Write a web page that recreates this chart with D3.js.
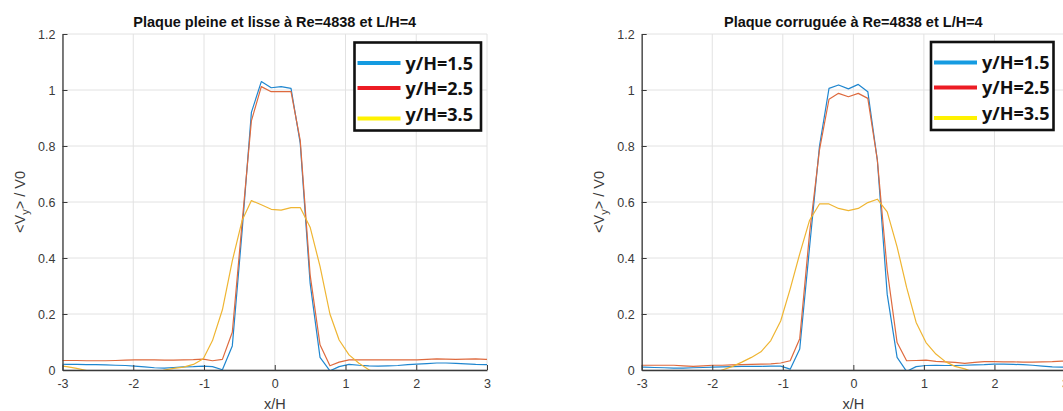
<!DOCTYPE html>
<html>
<head>
<meta charset="utf-8">
<script src="https://cdn.jsdelivr.net/npm/d3@7"></script>
<style>
  html, body { margin: 0; padding: 0; background: #fff; }
  svg { display: block; }
  .tick text { font-family: "Liberation Sans", Arial, sans-serif; font-size: 12.5px; fill: #3a3a3a; }
</style>
</head>
<body>
<svg id="chart" width="1063" height="411"></svg>
<script>
// Axis ticks shared by both panels
const xTicks = [-3, -2, -1, 0, 1, 2, 3];
const yTicks = [0, 0.2, 0.4, 0.6, 0.8, 1, 1.2];
const seriesNames = ["y/H=1.5", "y/H=2.5", "y/H=3.5"];

// Smooth plate (plaque pleine et lisse): x/H stations and <Vy>/V0 profiles
const xLisse = [-3.075, -2.94, -2.80, -2.66, -2.53, -2.39, -2.25, -2.11, -1.98, -1.84, -1.70, -1.56,
  -1.43, -1.29, -1.15, -1.01, -0.88, -0.74, -0.60, -0.46, -0.33, -0.19, -0.05, 0.09, 0.23, 0.36,
  0.50, 0.64, 0.78, 0.91, 1.05, 1.19, 1.33, 1.46, 1.60, 1.74, 1.88, 2.01, 2.15, 2.29, 2.42, 2.56,
  2.70, 2.84, 2.98, 3.11];
const lisse15 = [0.021, 0.020, 0.020, 0.019, 0.019, 0.018, 0.017, 0.016, 0.014, 0.011, 0.008, 0.007,
  0.009, 0.011, 0.012, 0.014, 0.012, 0.001, 0.086, 0.50, 0.92, 1.03, 1.008, 1.012, 1.006, 0.81,
  0.31, 0.045, -0.003, 0.012, 0.020, 0.017, 0.015, 0.014, 0.015, 0.016, 0.019, 0.021, 0.023, 0.025, 0.025, 0.024,
  0.022, 0.020, 0.019, 0.018];
const lisse25 = [0.034, 0.034, 0.034, 0.033, 0.033, 0.033, 0.034, 0.035, 0.036, 0.036, 0.036, 0.035,
  0.035, 0.036, 0.037, 0.039, 0.033, 0.038, 0.135, 0.53, 0.89, 1.012, 0.994, 0.994, 0.994, 0.82,
  0.34, 0.09, 0.015, 0.028, 0.036, 0.036, 0.036, 0.036, 0.036, 0.036, 0.036, 0.036, 0.038, 0.040, 0.039, 0.038,
  0.039, 0.040, 0.038, 0.037];
const lisse35 = [0.016, 0.012, 0.006, -0.002, -0.010, -0.015, -0.018, -0.020, -0.020, -0.018, -0.012, 0.0,
  0.006, 0.010, 0.020, 0.040, 0.105, 0.215, 0.39, 0.535, 0.605, 0.59, 0.574, 0.571, 0.58, 0.58,
  0.51, 0.37, 0.20, 0.107, 0.054, 0.024, 0.001, -0.015, -0.020, -0.025, -0.030, -0.030, -0.030, -0.030, -0.030, -0.030,
  -0.030, -0.030, -0.030, -0.030];

// Corrugated plate (plaque corruguée)
const xCorr = [-3.095, -2.96, -2.82, -2.68, -2.545, -2.41, -2.27, -2.13, -1.995, -1.86, -1.72, -1.58,
  -1.445, -1.31, -1.17, -1.03, -0.895, -0.76, -0.62, -0.48, -0.345, -0.21, -0.07, 0.07, 0.205, 0.34,
  0.48, 0.62, 0.755, 0.89, 1.03, 1.17, 1.305, 1.44, 1.58, 1.72, 1.855, 1.99, 2.13, 2.27, 2.405, 2.54,
  2.68, 2.82, 2.955, 3.09];
const corr15 = [0.010, 0.010, 0.009, 0.008, 0.007, 0.007, 0.008, 0.009, 0.010, 0.011, 0.012, 0.013,
  0.013, 0.013, 0.014, 0.014, 0.003, 0.075, 0.44, 0.80, 1.006, 1.018, 1.004, 1.02, 0.994, 0.75,
  0.27, 0.045, -0.005, 0.012, 0.016, 0.017, 0.016, 0.016, 0.017, 0.018, 0.019, 0.021, 0.021, 0.020, 0.019, 0.017,
  0.014, 0.011, 0.010, 0.010];
const corr25 = [0.017, 0.017, 0.017, 0.017, 0.017, 0.015, 0.013, 0.015, 0.017, 0.017, 0.018, 0.019,
  0.020, 0.021, 0.022, 0.025, 0.033, 0.112, 0.49, 0.786, 0.967, 0.988, 0.976, 0.988, 0.970, 0.75,
  0.357, 0.098, 0.033, 0.034, 0.035, 0.031, 0.029, 0.027, 0.024, 0.027, 0.030, 0.030, 0.029, 0.029, 0.028, 0.028,
  0.029, 0.030, 0.032, 0.032];
const corr35 = [-0.030, -0.030, -0.030, -0.030, -0.030, -0.030, -0.030, -0.030, -0.020, 0.0, 0.012, 0.028,
  0.045, 0.065, 0.105, 0.175, 0.29, 0.415, 0.535, 0.593, 0.593, 0.577, 0.569, 0.577, 0.598, 0.61,
  0.565, 0.44, 0.295, 0.17, 0.098, 0.057, 0.030, 0.013, 0.004, -0.010, -0.025, -0.030, -0.030, -0.030, -0.030, -0.030,
  -0.030, -0.030, -0.030, -0.030];

const lineColors = ["#1f86cf", "#de6a3e", "#efb532"];
const legendColors = ["#159be1", "#ec1c24", "#fff200"];

const svg = d3.select("#chart");

function drawPanel(cfg) {
  const x = d3.scaleLinear().domain([-3, 3]).range([cfg.left, cfg.right]);
  const y = d3.scaleLinear().domain([0, 1.2]).range([370, 34]);
  const g = svg.append("g");

  // grid
  g.append("g").selectAll("line").data(xTicks).join("line")
    .attr("x1", d => x(d)).attr("x2", d => x(d))
    .attr("y1", y(0)).attr("y2", y(1.2))
    .attr("stroke", "#e2e2e2").attr("stroke-width", 1);
  g.append("g").selectAll("line").data(yTicks).join("line")
    .attr("x1", x(-3)).attr("x2", x(3))
    .attr("y1", d => y(d)).attr("y2", d => y(d))
    .attr("stroke", "#e2e2e2").attr("stroke-width", 1);

  // data lines, clipped to the axes box
  const clipId = "clip-" + cfg.id;
  g.append("clipPath").attr("id", clipId).append("rect")
    .attr("x", x(-3)).attr("y", y(1.2))
    .attr("width", x(3) - x(-3)).attr("height", y(0) - y(1.2));
  const line = d3.line().x(d => x(d[0])).y(d => y(d[1]));
  const lines = g.append("g").attr("clip-path", `url(#${clipId})`);
  cfg.series.forEach((vals, i) => {
    lines.append("path")
      .datum(cfg.xs.map((xv, k) => [xv, vals[k]]))
      .attr("d", line)
      .attr("fill", "none")
      .attr("stroke", lineColors[i])
      .attr("stroke-width", 1.2)
      .attr("stroke-linejoin", "round");
  });

  // axes
  const xAxis = d3.axisBottom(x).tickValues(xTicks).tickFormat(d => String(d))
    .tickSizeInner(-5).tickSizeOuter(0).tickPadding(9);
  const yAxis = d3.axisLeft(y).tickValues(yTicks).tickFormat(d => String(d))
    .tickSizeInner(-5).tickSizeOuter(0).tickPadding(7);
  const gx = g.append("g").attr("transform", `translate(0,${y(0)})`).call(xAxis);
  const gy = g.append("g").attr("transform", `translate(${x(-3)},0)`).call(yAxis);
  [gx, gy].forEach(a => {
    a.select(".domain").attr("stroke", "#3a3a3a").attr("stroke-width", 1.3);
    a.selectAll(".tick line").attr("stroke", "#3a3a3a");
    a.selectAll(".tick text").attr("fill", "#3a3a3a");
  });

  // title and axis labels
  g.append("text")
    .attr("x", (x(-3) + x(3)) / 2).attr("y", 27)
    .attr("text-anchor", "middle")
    .attr("font-family", "Liberation Sans, Arial, sans-serif")
    .attr("font-size", 14.5).attr("font-weight", "bold").attr("fill", "#111")
    .text(cfg.title);
  g.append("text")
    .attr("x", x(0)).attr("y", 409)
    .attr("text-anchor", "middle")
    .attr("font-family", "Liberation Sans, Arial, sans-serif")
    .attr("font-size", 14.5).attr("fill", "#3a3a3a")
    .text("x/H");
  const yl = g.append("text")
    .attr("transform", `translate(${x(-3) - 38},${(y(0) + y(1.2)) / 2}) rotate(-90)`)
    .attr("text-anchor", "middle")
    .attr("font-family", "Liberation Sans, Arial, sans-serif")
    .attr("font-size", 14.5).attr("fill", "#3a3a3a");
  yl.append("tspan").text("<V");
  yl.append("tspan").attr("font-size", 11).attr("dy", 4).text("y");
  yl.append("tspan").attr("dy", -4).text("> / V0");

  // legend
  const lg = g.append("g").attr("transform", `translate(${cfg.legendX},${cfg.legendY})`);
  lg.append("rect").attr("x", 0).attr("y", 0)
    .attr("width", cfg.legendW).attr("height", 88)
    .attr("fill", "#fff").attr("stroke", "#111").attr("stroke-width", 2.6);
  const lineYs = [20.5, 45.5, 76];
  const textYs = [21, 46, 72];
  seriesNames.forEach((name, i) => {
    lg.append("line")
      .attr("x1", 3).attr("x2", 46)
      .attr("y1", lineYs[i]).attr("y2", lineYs[i])
      .attr("stroke", legendColors[i]).attr("stroke-width", 4);
    lg.append("text")
      .attr("x", 51).attr("y", textYs[i])
      .attr("dy", "0.35em")
      .attr("font-family", "Noto Sans, sans-serif")
      .attr("font-size", 18).attr("font-weight", "bold").attr("fill", "#111")
      .text(name);
  });
}

drawPanel({
  id: "lisse", left: 62.5, right: 487,
  title: "Plaque pleine et lisse à Re=4838 et L/H=4",
  xs: xLisse, series: [lisse15, lisse25, lisse35],
  legendX: 354.5, legendY: 42.5, legendW: 126.5
});
drawPanel({
  id: "corr", left: 641.7, right: 1065,
  title: "Plaque corruguée à Re=4838 et L/H=4",
  xs: xCorr, series: [corr15, corr25, corr35],
  legendX: 931, legendY: 42, legendW: 122.5
});
</script>
</body>
</html>
